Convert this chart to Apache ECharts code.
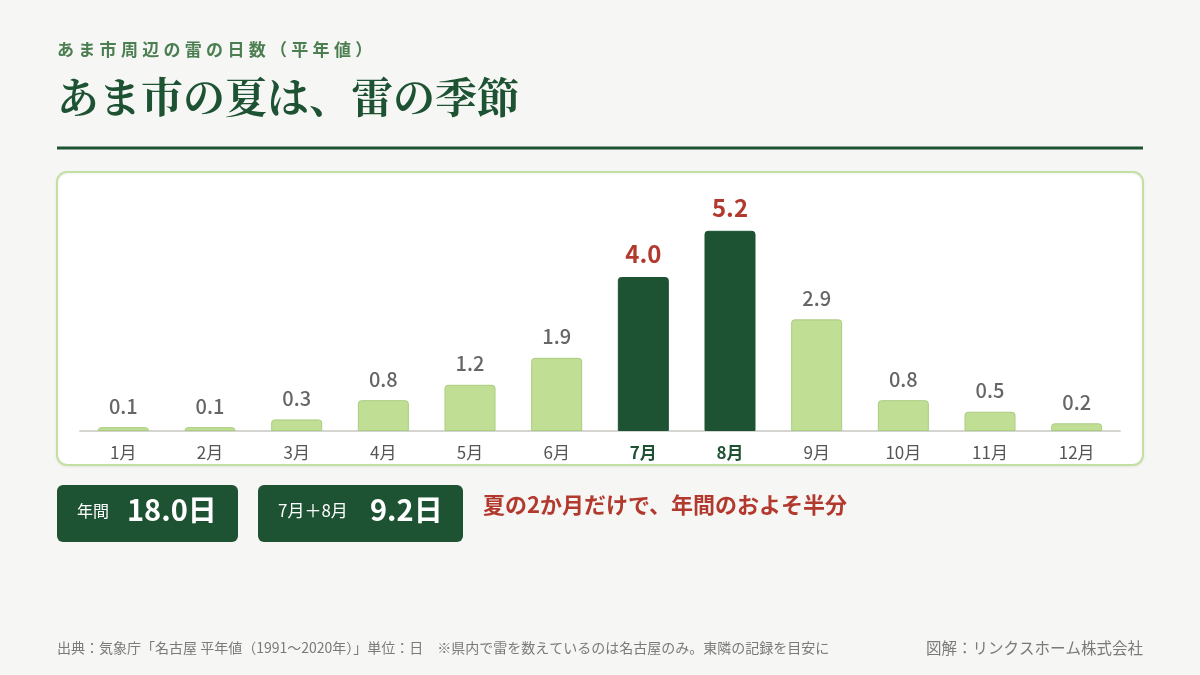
<!DOCTYPE html>
<html>
<head>
<meta charset="utf-8">
<script src="https://cdn.jsdelivr.net/npm/echarts@6/dist/echarts.min.js"></script>
<style>
  html, body { margin: 0; padding: 0; background: #f6f6f4; }
  #chart { width: 1200px; height: 675px; }
</style>
</head>
<body>
<div id="chart"></div>
<script>
// 雷の日数（平年値）
var months = ['1月', '2月', '3月', '4月', '5月', '6月', '7月', '8月', '9月', '10月', '11月', '12月']
var thunderDays = [0.1, 0.1, 0.3, 0.8, 1.2, 1.9, 4.0, 5.2, 2.9, 0.8, 0.5, 0.2]
var highlight = ['7月', '8月']

var DARK = '#1d5233'
var LIGHT = '#c1de95'
var RED = '#b2392d'
var JP = '"Noto Sans CJK JP", "Noto Sans", sans-serif'

var myChart = echarts.init(document.getElementById('chart'))

var barData = thunderDays.map(function (v, i) {
  var hot = highlight.indexOf(months[i]) >= 0
  return {
    value: v,
    itemStyle: {
      color: hot ? DARK : LIGHT,
      borderColor: hot ? DARK : '#a9cc7f',
      borderWidth: 1,
      borderRadius: [3, 3, 0, 0]
    },
    label: hot
      ? { color: RED, fontSize: 24, fontWeight: 'bold' }
      : { color: '#666', fontSize: 20, fontWeight: 500 }
  }
})

// 見出し（字間を広げるため1文字ずつ置く）
var subTitle = 'あま市周辺の雷の日数（平年値）'
var subChars = subTitle.split('').map(function (ch, i) {
  return { type: 'text', left: 57 + i * 21.3, top: 41, style: { text: ch, fill: '#4b7e50', font: 'bold 17px ' + JP } }
})

var option = {
  backgroundColor: '#f6f6f4',
  animation: false,
  textStyle: { fontFamily: JP },
  grid: { left: 80, right: 80, top: 200, bottom: 244 },
  xAxis: {
    type: 'category',
    data: months,
    axisLine: { lineStyle: { color: '#d4d4d0', width: 2 } },
    axisTick: { show: false },
    axisLabel: {
      interval: 0,
      margin: 13,
      fontSize: 17,
      color: '#555',
      formatter: function (v) {
        return highlight.indexOf(v) >= 0 ? '{hot|' + v + '}' : v
      },
      rich: {
        hot: { fontSize: 17, fontWeight: 'bold', color: DARK }
      }
    }
  },
  yAxis: {
    type: 'value',
    min: 0,
    max: 6,
    show: false,
    splitLine: { show: false }
  },
  graphic: subChars.concat([
    { type: 'text', left: 57, top: 76, style: { text: 'あま市の夏は、雷の季節', fill: DARK, font: 'bold 42px "Noto Serif CJK JP", "Noto Sans CJK JP", serif' } },
    { type: 'rect', shape: { x: 57, y: 146.5, width: 1086, height: 3 }, style: { fill: DARK } },
    // グラフ枠
    { type: 'rect', z: -1, shape: { x: 57, y: 172, width: 1086, height: 293, r: 10 }, style: { fill: '#fff', stroke: '#c3e0a4', lineWidth: 2, shadowBlur: 3, shadowOffsetY: 1, shadowColor: 'rgba(0,0,0,0.06)' } },
    // 集計ボックス
    { type: 'rect', shape: { x: 57, y: 485, width: 181, height: 57, r: 6 }, style: { fill: DARK } },
    { type: 'text', left: 77, top: 503, style: { text: '年間', fill: '#fff', font: '16px ' + JP } },
    { type: 'text', left: 127, top: 495, style: { text: '18.0日', fill: '#fff', font: 'bold 29px ' + JP } },
    { type: 'rect', shape: { x: 258, y: 485, width: 205, height: 57, r: 6 }, style: { fill: DARK } },
    { type: 'text', left: 278, top: 502, style: { text: '7月＋8月', fill: '#fff', font: '17px ' + JP } },
    { type: 'text', left: 370, top: 495, style: { text: '9.2日', fill: '#fff', font: 'bold 29px ' + JP } },
    { type: 'text', left: 483, top: 494, style: { text: '夏の2か月だけで、年間のおよそ半分', fill: RED, font: 'bold 22px ' + JP } },
    // 出典
    { type: 'text', left: 57, top: 641, style: { text: '出典：気象庁「名古屋 平年値（1991〜2020年）」単位：日　※県内で雷を数えているのは名古屋のみ。東隣の記録を目安に', fill: '#7a7a7a', font: '14px ' + JP } },
    { type: 'text', right: 57, top: 640, style: { text: '図解：リンクスホーム株式会社', fill: '#7a7a7a', font: '15.5px ' + JP } }
  ]),
  series: [
    {
      type: 'bar',
      data: barData,
      barWidth: 51,
      label: {
        show: true,
        position: 'top',
        distance: 11,
        formatter: function (p) { return p.value.toFixed(1) }
      }
    }
  ]
}

myChart.setOption(option)
</script>
</body>
</html>
